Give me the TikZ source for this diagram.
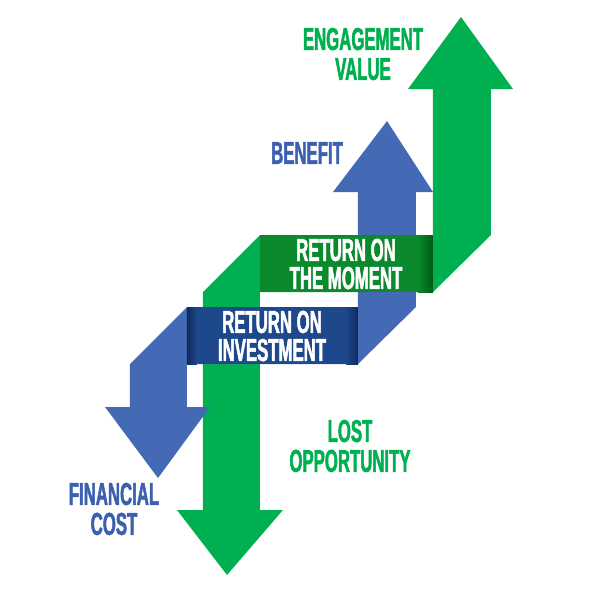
\documentclass[tikz,border=0pt]{standalone}
\usepackage{fontspec}
\usepackage{xcolor}
\usepackage{tikz}
\newfontfamily\labelfont[FakeStretch=0.53,FakeBold=1.6]{Liberation Sans}

\definecolor{arrowgreen}{RGB}{0,176,80}
\definecolor{arrowblue}{RGB}{68,106,182}
\definecolor{labelblue}{RGB}{60,96,176}
\definecolor{bannergreen}{RGB}{10,138,45}
\definecolor{bannergreendark}{RGB}{0,88,20}
\definecolor{bannerblue}{RGB}{30,72,140}
\definecolor{bannerbluedark}{RGB}{14,42,92}

\begin{document}
\begin{tikzpicture}[
        x=0.02cm, y=-0.02cm,
        label/.style={align=center, font=\labelfont\bfseries\fontsize{18}{17}\selectfont, inner sep=0pt},
        greenlabel/.style={label, text=arrowgreen},
        bluelabel/.style={label, text=labelblue},
        bannertext/.style={label, text=white, font=\labelfont\bfseries\fontsize{18}{16}\selectfont},
        greenarrow/.style={fill=arrowgreen},
        bluearrow/.style={fill=arrowblue}
    ]

        \useasboundingbox (0,0) rectangle (600,600);

        % green arrow: down on the left, up on the right
        \fill[greenarrow] (461,17) -- (513,89) -- (491,89) -- (491,235) -- (433,292)
            -- (260,292) -- (260,510) -- (283,510) -- (227,575) -- (177,510)
            -- (203,510) -- (203,292) -- (260,235) -- (433,235) -- (433,89)
            -- (408,89) -- cycle;

        % blue arrow
        \fill[bluearrow] (387,121) -- (433,192) -- (416,192) -- (416,307) -- (358,364)
            -- (187,364) -- (187,407) -- (210,407) -- (158,478) -- (105,407)
            -- (130,407) -- (130,364) -- (187,307) -- (358,307) -- (358,192)
            -- (333,192) -- cycle;

        % banners
        \fill[bannergreen] (260,235) rectangle (433,292);
        \shade[left color=bannergreen, right color=bannergreendark] (418,235) rectangle (433,292);
        \fill[bannerblue] (187,307) rectangle (358,364);
        \shade[left color=bannerbluedark, right color=bannerblue] (187,307) rectangle (197,364);
        \shade[left color=bannerblue, right color=bannerbluedark] (346,307) rectangle (358,364);

        \node[bannertext] (rotm) at (346,264) {RETURN ON\\THE MOMENT};
        \node[bannertext] (roi) at (272,336) {RETURN ON\\INVESTMENT};

        \node[greenlabel] (engage) at (363,54) {ENGAGEMENT\\VALUE};
        \node[bluelabel] (benefit) at (307,153) {BENEFIT};
        \node[greenlabel] (lost) at (350,446) {LOST\\OPPORTUNITY};
        \node[bluelabel] (cost) at (114,509) {FINANCIAL\\COST};

    \end{tikzpicture}
\end{document}
